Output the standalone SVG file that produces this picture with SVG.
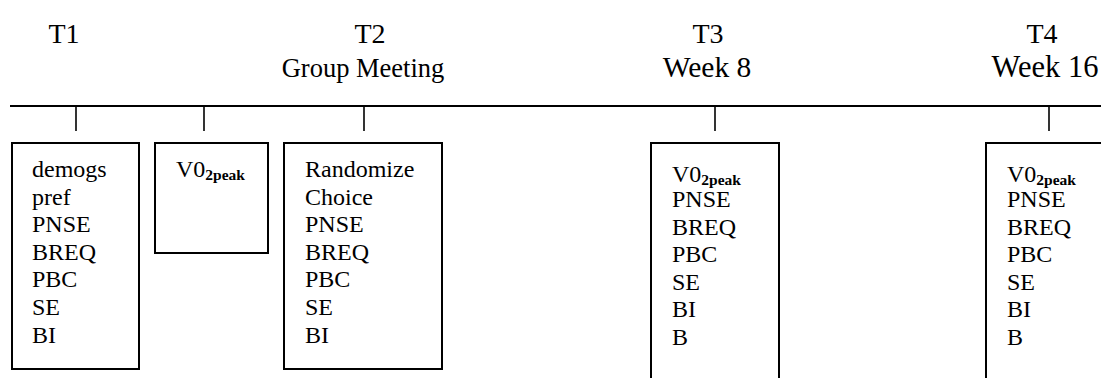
<svg xmlns="http://www.w3.org/2000/svg" width="1101" height="378" viewBox="0 0 1101 378">
<style>
.hd{font-family:"Liberation Serif","Times New Roman",serif;font-size:28px;fill:#000;text-anchor:middle}
.tx{font-family:"Liberation Serif","Times New Roman",serif;font-size:24px;fill:#000}
.sub{font-size:15.5px;font-weight:bold}
.box{fill:#fff;stroke:#000;stroke-width:2}
.ln{stroke:#000;fill:none}
</style>
<rect width="1101" height="378" fill="#fff"/>
<g id="headers">
<text class="hd" x="64" y="43">T1</text>
<text class="hd" x="370" y="43">T2</text>
<text class="hd" x="363" y="77" style="font-size:26.5px">Group Meeting</text>
<text class="hd" x="708" y="43">T3</text>
<text class="hd" x="707" y="77" style="font-size:29.5px">Week 8</text>
<text class="hd" x="1042" y="43">T4</text>
<text class="hd" x="1045" y="77" style="font-size:30.5px">Week 16</text>
</g>
<g id="connectors">
<line class="ln" x1="10" y1="106" x2="1101" y2="106" stroke-width="2"/>
<line class="ln" x1="76" y1="106" x2="76" y2="131" stroke-width="1.6"/>
<line class="ln" x1="204" y1="106" x2="204" y2="131" stroke-width="1.6"/>
<line class="ln" x1="364" y1="106" x2="364" y2="131" stroke-width="1.6"/>
<line class="ln" x1="715" y1="106" x2="715" y2="131" stroke-width="1.6"/>
<line class="ln" x1="1049" y1="106" x2="1049" y2="131" stroke-width="1.6"/>
</g>
<g id="box-t1">
<rect class="box" x="12" y="143" width="127" height="226"/>
<text class="tx" x="32" y="177">demogs</text>
<text class="tx" x="32" y="204.6">pref</text>
<text class="tx" x="32" y="232.2">PNSE</text>
<text class="tx" x="32" y="259.8">BREQ</text>
<text class="tx" x="32" y="287.4">PBC</text>
<text class="tx" x="32" y="315">SE</text>
<text class="tx" x="32" y="342.6">BI</text>
</g>
<g id="box-vo2">
<rect class="box" x="155" y="143" width="113" height="110"/>
<text class="tx" x="176" y="177">V0<tspan class="sub" dy="3">2peak</tspan></text>
</g>
<g id="box-t2">
<rect class="box" x="284" y="143" width="158" height="226"/>
<text class="tx" x="305" y="177">Randomize</text>
<text class="tx" x="305" y="204.6">Choice</text>
<text class="tx" x="305" y="232.2">PNSE</text>
<text class="tx" x="305" y="259.8">BREQ</text>
<text class="tx" x="305" y="287.4">PBC</text>
<text class="tx" x="305" y="315">SE</text>
<text class="tx" x="305" y="342.6">BI</text>
</g>
<g id="box-t3">
<rect class="box" x="651" y="143" width="128" height="250"/>
<text class="tx" x="672" y="182">V0<tspan class="sub" dy="3">2peak</tspan></text>
<text class="tx" x="672" y="207">PNSE</text>
<text class="tx" x="672" y="234.6">BREQ</text>
<text class="tx" x="672" y="262.2">PBC</text>
<text class="tx" x="672" y="289.8">SE</text>
<text class="tx" x="672" y="317.4">BI</text>
<text class="tx" x="672" y="345">B</text>
</g>
<g id="box-t4">
<rect class="box" x="986" y="143" width="130" height="250"/>
<text class="tx" x="1007" y="182">V0<tspan class="sub" dy="3">2peak</tspan></text>
<text class="tx" x="1007" y="207">PNSE</text>
<text class="tx" x="1007" y="234.6">BREQ</text>
<text class="tx" x="1007" y="262.2">PBC</text>
<text class="tx" x="1007" y="289.8">SE</text>
<text class="tx" x="1007" y="317.4">BI</text>
<text class="tx" x="1007" y="345">B</text>
</g>
</svg>
